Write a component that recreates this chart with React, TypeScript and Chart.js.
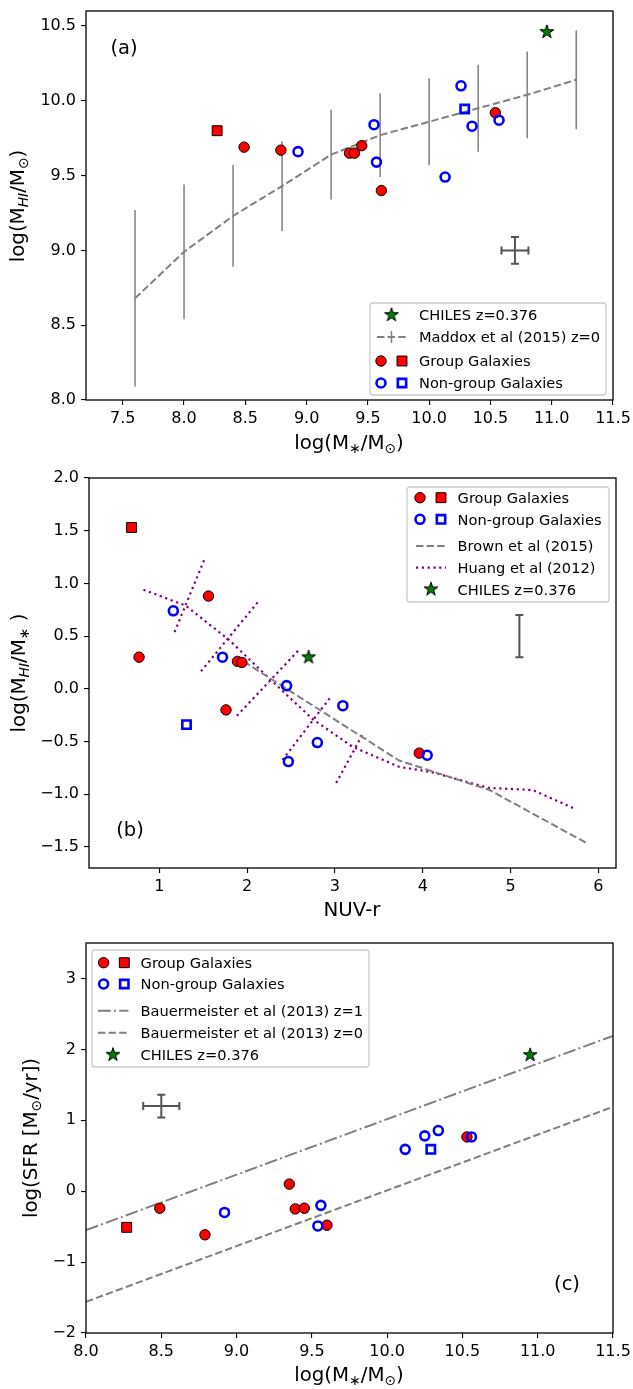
import React, { useEffect, useRef } from 'react';
import { Chart, registerables } from 'chart.js';

Chart.register(...registerables);

const FONT = "'DejaVu Sans', 'Liberation Sans', sans-serif";
const CANVAS_W = 633;

// ================= Panel (a) data =================
const aTickX = [7.5, 8.0, 8.5, 9.0, 9.5, 10.0, 10.5, 11.0, 11.5];
const aTickY = [8.0, 8.5, 9.0, 9.5, 10.0, 10.5];
const aGroupMass = [8.49, 8.79, 9.35, 9.39, 9.45, 9.61, 10.54];
const aGroupHI = [9.69, 9.67, 9.65, 9.65, 9.70, 9.40, 9.92];
const aGroupSqMass = [8.27];
const aGroupSqHI = [9.80];
const aNonGroupMass = [8.93, 9.55, 9.57, 10.13, 10.26, 10.35, 10.57];
const aNonGroupHI = [9.66, 9.84, 9.59, 9.49, 10.10, 9.83, 9.87];
const aNonGroupSqMass = [10.29];
const aNonGroupSqHI = [9.945];
const aChilesMass = [10.96];
const aChilesHI = [10.46];
const maddoxMass = [7.6, 8.0, 8.4, 8.8, 9.2, 9.6, 10.0, 10.4, 10.8, 11.2];
const maddoxHI = [8.68, 8.99, 9.23, 9.43, 9.64, 9.77, 9.86, 9.95, 10.04, 10.14];
const maddoxErr = [0.59, 0.45, 0.34, 0.30, 0.30, 0.28, 0.29, 0.29, 0.29, 0.33];
const aErrX = [10.7];
const aErrY = [9.0];
const aErrXSize = [0.11];
const aErrYSize = [0.09];

// ================= Panel (b) data =================
const bTickX = [1, 2, 3, 4, 5, 6];
const bTickY = [-1.5, -1.0, -0.5, 0.0, 0.5, 1.0, 1.5, 2.0];
const bGroupNUV = [0.77, 1.56, 1.89, 1.94, 1.76, 3.96];
const bGroupFrac = [0.30, 0.88, 0.26, 0.25, -0.20, -0.61];
const bGroupSqNUV = [0.685];
const bGroupSqFrac = [1.53];
const bNonGroupNUV = [1.16, 1.72, 2.45, 3.09, 2.80, 2.47, 4.05];
const bNonGroupFrac = [0.74, 0.30, 0.03, -0.16, -0.51, -0.69, -0.63];
const bNonGroupSqNUV = [1.31];
const bNonGroupSqFrac = [-0.34];
const bChilesNUV = [2.70];
const bChilesFrac = [0.30];
const brownNUV = [1.96, 3.73, 4.76, 5.88];
const brownFrac = [0.26, -0.68, -0.96, -1.47];
const huangNUV = [0.82, 1.3, 1.8, 2.3, 2.75, 3.2, 3.73, 4.1, 4.75, 5.25, 5.71];
const huangFrac = [0.94, 0.79, 0.46, 0.06, -0.29, -0.55, -0.74, -0.79, -0.94, -0.96, -1.13];
const huangBarNUV1 = [1.51, 2.12, 2.58, 2.94, 3.31];
const huangBarFrac1 = [1.22, 0.82, 0.36, -0.09, -0.44];
const huangBarNUV2 = [1.16, 1.45, 1.88, 2.38, 3.01];
const huangBarFrac2 = [0.51, 0.14, -0.26, -0.70, -0.90];
const bErrX = [5.1];
const bErrY = [0.5];
const bErrYSize = [0.2];

// ================= Panel (c) data =================
const cTickX = [8.0, 8.5, 9.0, 9.5, 10.0, 10.5, 11.0, 11.5];
const cTickY = [-2, -1, 0, 1, 2, 3];
const cGroupMass = [8.49, 8.79, 9.35, 9.39, 9.45, 9.60, 10.53];
const cGroupSFR = [-0.24, -0.615, 0.10, -0.25, -0.24, -0.48, 0.765];
const cGroupSqMass = [8.27];
const cGroupSqSFR = [-0.51];
const cNonGroupMass = [8.92, 9.56, 9.54, 10.12, 10.25, 10.34, 10.56];
const cNonGroupSFR = [-0.30, -0.20, -0.49, 0.59, 0.78, 0.855, 0.765];
const cNonGroupSqMass = [10.29];
const cNonGroupSqSFR = [0.59];
const cChilesMass = [10.95];
const cChilesSFR = [1.92];
const bauerMass = [8.0, 11.5];
const bauerZ1 = [-0.55, 2.19];
const bauerZ0 = [-1.56, 1.19];
const cErrX = [8.5];
const cErrY = [1.2];
const cErrXSize = [0.12];
const cErrYSize = [0.16];

// ================= helpers =================
type Pt = { x: number; y: number };
const pts = (xs: number[], ys: number[]): Pt[] => xs.map((x, i) => ({ x, y: ys[i] }));

const GRAY = '#808080';
const PURPLE = '#800080';
const DASHED = [7.4, 3.2];
const DOTTED = [2.2, 3.6];
const DASHDOT = [12.8, 3.2, 2, 3.2];

const R_FC = 5.2;
const R_FS = 7.0;
const R_OC = 4.5;
const R_OS = 5.9;
const BLUE_W = 2.6;

function makeStar(): HTMLCanvasElement {
  const c = document.createElement('canvas');
  const s = 20;
  c.width = s;
  c.height = s;
  const ctx = c.getContext('2d')!;
  const outer = 7.2;
  const inner = outer * 0.382;
  ctx.beginPath();
  for (let i = 0; i < 10; i++) {
    const r = i % 2 === 0 ? outer : inner;
    const a = -Math.PI / 2 + (i * Math.PI) / 5;
    const px = s / 2 + r * Math.cos(a);
    const py = s / 2 + r * Math.sin(a);
    if (i === 0) ctx.moveTo(px, py);
    else ctx.lineTo(px, py);
  }
  ctx.closePath();
  ctx.fillStyle = 'green';
  ctx.fill();
  ctx.lineWidth = 1;
  ctx.strokeStyle = '#000';
  ctx.lineJoin = 'miter';
  ctx.stroke();
  return c;
}

let STAR: HTMLCanvasElement | null = null;
const star = () => {
  if (!STAR) STAR = makeStar();
  return STAR;
};

const dsFilledCircle = (data: Pt[]) => ({
  data, showLine: false, order: 1,
  pointStyle: 'circle', pointRadius: R_FC, pointBorderWidth: 1,
  pointBorderColor: '#000', pointBackgroundColor: '#ff0000',
  borderColor: '#000', backgroundColor: '#ff0000',
});
const dsFilledSquare = (data: Pt[]) => ({
  data, showLine: false, order: 1,
  pointStyle: 'rect', pointRadius: R_FS, pointBorderWidth: 1,
  pointBorderColor: '#000', pointBackgroundColor: '#ff0000',
  borderColor: '#000', backgroundColor: '#ff0000',
});
const dsOpenCircle = (data: Pt[]) => ({
  data, showLine: false, order: 0,
  pointStyle: 'circle', pointRadius: R_OC, pointBorderWidth: BLUE_W,
  pointBorderColor: '#0000ff', pointBackgroundColor: 'rgba(0,0,0,0)',
  borderColor: '#0000ff', backgroundColor: 'rgba(0,0,0,0)',
});
const dsOpenSquare = (data: Pt[]) => ({
  data, showLine: false, order: 0,
  pointStyle: 'rect', pointRadius: R_OS, pointBorderWidth: BLUE_W,
  pointBorderColor: '#0000ff', pointBackgroundColor: 'rgba(0,0,0,0)',
  borderColor: '#0000ff', backgroundColor: 'rgba(0,0,0,0)',
});
const dsStar = (data: Pt[]) => ({
  data, showLine: false, order: 0,
  pointStyle: star(), pointRadius: 7,
});
const dsLine = (data: Pt[], color: string, width: number, dash: number[]) => ({
  data, showLine: true, order: 5, pointRadius: 0, fill: false, tension: 0,
  borderColor: color, borderWidth: width, borderDash: dash, borderCapStyle: 'butt',
  backgroundColor: color,
});

type ErrSpec = {
  xs: number[]; ys: number[]; xerr?: number[]; yerr?: number[];
  color: string; width: number; cap: number;
};
type Seg = { t: string; sub?: boolean; it?: boolean };
type TextItem = { segs: Seg[]; x: number; y: number; size: number; rotate?: boolean };
type Handle = {
  k: 'fc' | 'fs' | 'oc' | 'os' | 'star' | 'line';
  x: number; x2?: number; color?: string; dash?: number[]; width?: number; bar?: boolean;
};
type LegendRow = { y: number; text: string; handles: Handle[] };
type LegendCfg = { box: [number, number, number, number]; textX: number; size: number; rows: LegendRow[] };

type Panel = {
  height: number;
  frame: { l: number; t: number; r: number; b: number };
  xMin: number; xMax: number; yMin: number; yMax: number;
  xTicks: number[]; yTicks: number[];
  xDec: number; yDec: number;
  datasets: any[];
  errs: ErrSpec[];
  legend: LegendCfg;
  texts: TextItem[];
};

const fmt = (v: number, d: number) => (v < -1e-9 ? '\u2212' : '') + Math.abs(v).toFixed(d);

function drawRich(ctx: CanvasRenderingContext2D, item: TextItem) {
  const { segs, x, y, size, rotate } = item;
  const sub = size * 0.7;
  const fontOf = (s: Seg) =>
    `${s.it ? 'italic ' : ''}${s.sub ? sub : size}px ${FONT}`;
  ctx.save();
  ctx.translate(x, y);
  if (rotate) ctx.rotate(-Math.PI / 2);
  let total = 0;
  const widths = segs.map((s) => {
    ctx.font = fontOf(s);
    const w = ctx.measureText(s.t).width;
    total += w;
    return w;
  });
  let cx = -total / 2;
  const base = size * 0.28;
  ctx.fillStyle = '#000';
  ctx.textBaseline = 'alphabetic';
  ctx.textAlign = 'left';
  segs.forEach((s, i) => {
    ctx.font = fontOf(s);
    ctx.fillText(s.t, cx, s.sub ? base + size * 0.2 : base);
    cx += widths[i];
  });
  ctx.restore();
}

function drawMarker(ctx: CanvasRenderingContext2D, h: Handle, y: number) {
  ctx.save();
  ctx.setLineDash([]);
  if (h.k === 'fc') {
    ctx.beginPath();
    ctx.arc(h.x, y, R_FC, 0, Math.PI * 2);
    ctx.fillStyle = '#ff0000';
    ctx.fill();
    ctx.lineWidth = 1;
    ctx.strokeStyle = '#000';
    ctx.stroke();
  } else if (h.k === 'fs') {
    const s = R_FS * Math.SQRT1_2;
    ctx.beginPath();
    ctx.rect(h.x - s, y - s, 2 * s, 2 * s);
    ctx.fillStyle = '#ff0000';
    ctx.fill();
    ctx.lineWidth = 1;
    ctx.strokeStyle = '#000';
    ctx.stroke();
  } else if (h.k === 'oc') {
    ctx.beginPath();
    ctx.arc(h.x, y, R_OC, 0, Math.PI * 2);
    ctx.lineWidth = BLUE_W;
    ctx.strokeStyle = '#0000ff';
    ctx.stroke();
  } else if (h.k === 'os') {
    const s = R_OS * Math.SQRT1_2;
    ctx.beginPath();
    ctx.rect(h.x - s, y - s, 2 * s, 2 * s);
    ctx.lineWidth = BLUE_W;
    ctx.strokeStyle = '#0000ff';
    ctx.stroke();
  } else if (h.k === 'star') {
    const img = star();
    ctx.drawImage(img, h.x - img.width / 2, y - img.height / 2);
  } else if (h.k === 'line') {
    ctx.beginPath();
    ctx.setLineDash(h.dash || []);
    ctx.lineWidth = h.width || 2;
    ctx.strokeStyle = h.color || GRAY;
    ctx.lineCap = 'butt';
    ctx.moveTo(h.x, y);
    ctx.lineTo(h.x2 || h.x, y);
    ctx.stroke();
    if (h.bar) {
      const mx = (h.x + (h.x2 || h.x)) / 2;
      ctx.setLineDash([]);
      ctx.lineWidth = 1.5;
      ctx.beginPath();
      ctx.moveTo(mx, y - 6);
      ctx.lineTo(mx, y + 6);
      ctx.stroke();
    }
  }
  ctx.restore();
}

function roundRect(ctx: CanvasRenderingContext2D, x: number, y: number, w: number, h: number, r: number) {
  ctx.beginPath();
  ctx.moveTo(x + r, y);
  ctx.lineTo(x + w - r, y);
  ctx.arcTo(x + w, y, x + w, y + r, r);
  ctx.lineTo(x + w, y + h - r);
  ctx.arcTo(x + w, y + h, x + w - r, y + h, r);
  ctx.lineTo(x + r, y + h);
  ctx.arcTo(x, y + h, x, y + h - r, r);
  ctx.lineTo(x, y + r);
  ctx.arcTo(x, y, x + r, y, r);
  ctx.closePath();
}

function makeChart(canvas: HTMLCanvasElement, p: Panel): Chart {
  const { frame } = p;
  const errPlugin = {
    id: 'errbars',
    beforeDatasetsDraw(chart: any) {
      const ctx: CanvasRenderingContext2D = chart.ctx;
      const xs = chart.scales.x;
      const ys = chart.scales.y;
      p.errs.forEach((e) => {
        ctx.save();
        ctx.strokeStyle = e.color;
        ctx.lineWidth = e.width;
        ctx.setLineDash([]);
        ctx.lineCap = 'butt';
        e.xs.forEach((xv, i) => {
          const px = xs.getPixelForValue(xv);
          const py = ys.getPixelForValue(e.ys[i]);
          if (e.yerr) {
            const t = ys.getPixelForValue(e.ys[i] + e.yerr[i]);
            const b = ys.getPixelForValue(e.ys[i] - e.yerr[i]);
            ctx.beginPath();
            ctx.moveTo(px, t);
            ctx.lineTo(px, b);
            if (e.cap > 0) {
              ctx.moveTo(px - e.cap, t);
              ctx.lineTo(px + e.cap, t);
              ctx.moveTo(px - e.cap, b);
              ctx.lineTo(px + e.cap, b);
            }
            ctx.stroke();
          }
          if (e.xerr) {
            const l = xs.getPixelForValue(xv - e.xerr[i]);
            const r = xs.getPixelForValue(xv + e.xerr[i]);
            ctx.beginPath();
            ctx.moveTo(l, py);
            ctx.lineTo(r, py);
            if (e.cap > 0) {
              ctx.moveTo(l, py - e.cap);
              ctx.lineTo(l, py + e.cap);
              ctx.moveTo(r, py - e.cap);
              ctx.lineTo(r, py + e.cap);
            }
            ctx.stroke();
          }
        });
        ctx.restore();
      });
    },
  };
  const decoPlugin = {
    id: 'deco',
    afterDraw(chart: any) {
      const ctx: CanvasRenderingContext2D = chart.ctx;
      const a = chart.chartArea;
      ctx.save();
      ctx.strokeStyle = '#000';
      ctx.lineWidth = 1.3;
      ctx.setLineDash([]);
      ctx.strokeRect(a.left, a.top, a.right - a.left, a.bottom - a.top);
      ctx.restore();
      // legend
      const L = p.legend;
      ctx.save();
      roundRect(ctx, L.box[0], L.box[1], L.box[2], L.box[3], 3);
      ctx.fillStyle = 'rgba(255,255,255,0.8)';
      ctx.fill();
      ctx.strokeStyle = '#cccccc';
      ctx.lineWidth = 1.3;
      ctx.stroke();
      ctx.restore();
      L.rows.forEach((row) => {
        row.handles.forEach((h) => drawMarker(ctx, h, row.y));
        ctx.save();
        ctx.fillStyle = '#000';
        ctx.font = `${L.size}px ${FONT}`;
        ctx.textAlign = 'left';
        ctx.textBaseline = 'alphabetic';
        ctx.fillText(row.text, L.textX, row.y + L.size * 0.36);
        ctx.restore();
      });
      p.texts.forEach((t) => drawRich(ctx, t));
    },
  };

  const tickFont = { size: 16, family: FONT };
  const grid = {
    display: true, drawOnChartArea: false, drawTicks: true, tickLength: 5,
    color: '#000', lineWidth: 1.1,
  };
  const cfg: any = {
    type: 'scatter',
    data: { datasets: p.datasets },
    options: {
      responsive: false,
      maintainAspectRatio: false,
      animation: false,
      devicePixelRatio: 1,
      events: [],
      layout: { padding: { left: 0, top: frame.t, right: CANVAS_W - frame.r, bottom: 0 } },
      plugins: { legend: { display: false }, tooltip: { enabled: false }, title: { display: false } },
      scales: {
        x: {
          type: 'linear', position: 'bottom', min: p.xMin, max: p.xMax,
          afterBuildTicks: (s: any) => { s.ticks = p.xTicks.map((v) => ({ value: v })); },
          afterFit: (s: any) => { s.height = p.height - frame.b; s.paddingLeft = 0; s.paddingRight = 0; },
          ticks: {
            callback: (v: number) => fmt(v, p.xDec), color: '#000', font: tickFont,
            padding: 4, maxRotation: 0, minRotation: 0, autoSkip: false,
          },
          grid, border: { display: false },
        },
        y: {
          type: 'linear', position: 'left', min: p.yMin, max: p.yMax,
          afterBuildTicks: (s: any) => { s.ticks = p.yTicks.map((v) => ({ value: v })); },
          afterFit: (s: any) => { s.width = frame.l; s.paddingTop = 0; s.paddingBottom = 0; },
          ticks: {
            callback: (v: number) => fmt(v, p.yDec), color: '#000', font: tickFont,
            padding: 5, autoSkip: false,
          },
          grid, border: { display: false },
        },
      },
    },
    plugins: [errPlugin, decoPlugin],
  };
  return new Chart(canvas, cfg);
}

// ================= panel configs =================
const T_SIZE = 19.8;
const L_SIZE = 14.6;
const titleMassStar: Seg[] = [{ t: 'log(M' }, { t: '\u2217', sub: true }, { t: '/M' }, { t: '\u2299', sub: true }, { t: ')' }];
const titleHI: Seg[] = [{ t: 'log(M' }, { t: 'HI', sub: true, it: true }, { t: '/M' }, { t: '\u2299', sub: true }, { t: ')' }];
const titleFrac: Seg[] = [{ t: 'log(M' }, { t: 'HI', sub: true, it: true }, { t: '/M' }, { t: '\u2217', sub: true }, { t: ' )' }];
const titleSFR: Seg[] = [{ t: 'log(SFR [M' }, { t: '\u2299', sub: true }, { t: '/yr])' }];

function panelA(): Panel {
  return {
    height: 460,
    frame: { l: 86, t: 11, r: 613, b: 400 },
    xMin: 7.2, xMax: 11.5, yMin: 8.0, yMax: 10.6,
    xTicks: aTickX, yTicks: aTickY, xDec: 1, yDec: 1,
    datasets: [
      dsStar(pts(aChilesMass, aChilesHI)),
      dsOpenSquare(pts(aNonGroupSqMass, aNonGroupSqHI)),
      dsOpenCircle(pts(aNonGroupMass, aNonGroupHI)),
      dsFilledSquare(pts(aGroupSqMass, aGroupSqHI)),
      dsFilledCircle(pts(aGroupMass, aGroupHI)),
      dsLine(pts(maddoxMass, maddoxHI), GRAY, 2, DASHED),
    ],
    errs: [
      { xs: maddoxMass, ys: maddoxHI, yerr: maddoxErr, color: GRAY, width: 1.5, cap: 0 },
      { xs: aErrX, ys: aErrY, xerr: aErrXSize, yerr: aErrYSize, color: '#555555', width: 2, cap: 4 },
    ],
    legend: {
      box: [370, 303, 236, 92], textX: 419, size: L_SIZE,
      rows: [
        { y: 315, text: 'CHILES z=0.376', handles: [{ k: 'star', x: 391.5 }] },
        { y: 337, text: 'Maddox et al (2015) z=0', handles: [{ k: 'line', x: 377, x2: 406, color: GRAY, dash: DASHED, width: 2, bar: true }] },
        { y: 361, text: 'Group Galaxies', handles: [{ k: 'fc', x: 381 }, { k: 'fs', x: 402 }] },
        { y: 383, text: 'Non-group Galaxies', handles: [{ k: 'oc', x: 381 }, { k: 'os', x: 402 }] },
      ],
    },
    texts: [
      { segs: titleHI, x: 18.5, y: 206, size: T_SIZE, rotate: true },
      { segs: titleMassStar, x: 349, y: 443, size: T_SIZE },
      { segs: [{ t: '(a)' }], x: 124, y: 49, size: 19.5 },
    ],
  };
}

function panelB(): Panel {
  const bars = huangBarNUV1.map((x1, i) =>
    dsLine(pts([x1, huangBarNUV2[i]], [huangBarFrac1[i], huangBarFrac2[i]]), PURPLE, 2.2, DOTTED));
  return {
    height: 460,
    frame: { l: 89, t: 18, r: 616, b: 408 },
    xMin: 0.2, xMax: 6.2, yMin: -1.7, yMax: 2.0,
    xTicks: bTickX, yTicks: bTickY, xDec: 0, yDec: 1,
    datasets: [
      dsStar(pts(bChilesNUV, bChilesFrac)),
      dsOpenSquare(pts(bNonGroupSqNUV, bNonGroupSqFrac)),
      dsOpenCircle(pts(bNonGroupNUV, bNonGroupFrac)),
      dsFilledSquare(pts(bGroupSqNUV, bGroupSqFrac)),
      dsFilledCircle(pts(bGroupNUV, bGroupFrac)),
      dsLine(pts(brownNUV, brownFrac), GRAY, 2, DASHED),
      dsLine(pts(huangNUV, huangFrac), PURPLE, 2.2, DOTTED),
      ...bars,
    ],
    errs: [
      { xs: bErrX, ys: bErrY, yerr: bErrYSize, color: '#555555', width: 2, cap: 4 },
    ],
    legend: {
      box: [407, 27, 202, 115], textX: 457.6, size: L_SIZE,
      rows: [
        { y: 37.7, text: 'Group Galaxies', handles: [{ k: 'fc', x: 420 }, { k: 'fs', x: 441 }] },
        { y: 59.3, text: 'Non-group Galaxies', handles: [{ k: 'oc', x: 420 }, { k: 'os', x: 441 }] },
        { y: 86, text: 'Brown et al (2015)', handles: [{ k: 'line', x: 416, x2: 446, color: GRAY, dash: DASHED, width: 2 }] },
        { y: 107.7, text: 'Huang et al (2012)', handles: [{ k: 'line', x: 416, x2: 446, color: PURPLE, dash: DOTTED, width: 2.2 }] },
        { y: 129.3, text: 'CHILES z=0.376', handles: [{ k: 'star', x: 431 }] },
      ],
    },
    texts: [
      { segs: titleFrac, x: 19.2, y: 213, size: T_SIZE, rotate: true },
      { segs: [{ t: 'NUV-r' }], x: 352, y: 450, size: T_SIZE },
      { segs: [{ t: '(b)' }], x: 130, y: 371, size: 19.5 },
    ],
  };
}

function panelC(): Panel {
  return {
    height: 469,
    frame: { l: 86, t: 23, r: 613, b: 413 },
    xMin: 8.0, xMax: 11.5, yMin: -2.0, yMax: 3.5,
    xTicks: cTickX, yTicks: cTickY, xDec: 1, yDec: 0,
    datasets: [
      dsStar(pts(cChilesMass, cChilesSFR)),
      dsOpenSquare(pts(cNonGroupSqMass, cNonGroupSqSFR)),
      dsOpenCircle(pts(cNonGroupMass, cNonGroupSFR)),
      dsFilledSquare(pts(cGroupSqMass, cGroupSqSFR)),
      dsFilledCircle(pts(cGroupMass, cGroupSFR)),
      dsLine(pts(bauerMass, bauerZ1), GRAY, 2, DASHDOT),
      dsLine(pts(bauerMass, bauerZ0), GRAY, 2, DASHED),
    ],
    errs: [
      { xs: cErrX, ys: cErrY, xerr: cErrXSize, yerr: cErrYSize, color: '#555555', width: 2, cap: 4 },
    ],
    legend: {
      box: [92, 30, 277, 117], textX: 140.6, size: L_SIZE,
      rows: [
        { y: 42.7, text: 'Group Galaxies', handles: [{ k: 'fc', x: 103.6 }, { k: 'fs', x: 124.3 }] },
        { y: 64, text: 'Non-group Galaxies', handles: [{ k: 'oc', x: 103.6 }, { k: 'os', x: 124.3 }] },
        { y: 90.7, text: 'Bauermeister et al (2013) z=1', handles: [{ k: 'line', x: 98, x2: 128.4, color: GRAY, dash: DASHDOT, width: 2 }] },
        { y: 112.7, text: 'Bauermeister et al (2013) z=0', handles: [{ k: 'line', x: 98, x2: 128.4, color: GRAY, dash: DASHED, width: 2 }] },
        { y: 134.7, text: 'CHILES z=0.376', handles: [{ k: 'star', x: 113 }] },
      ],
    },
    texts: [
      { segs: titleSFR, x: 31.6, y: 218, size: T_SIZE, rotate: true },
      { segs: titleMassStar, x: 349, y: 455, size: T_SIZE },
      { segs: [{ t: '(c)' }], x: 567, y: 365, size: 19.5 },
    ],
  };
}

export default function App() {
  const refA = useRef<HTMLCanvasElement>(null);
  const refB = useRef<HTMLCanvasElement>(null);
  const refC = useRef<HTMLCanvasElement>(null);

  useEffect(() => {
    Chart.defaults.font.family = FONT;
    const charts = [
      makeChart(refA.current!, panelA()),
      makeChart(refB.current!, panelB()),
      makeChart(refC.current!, panelC()),
    ];
    return () => charts.forEach((c) => c.destroy());
  }, []);

  const cs = (top: number, h: number): React.CSSProperties => ({
    position: 'absolute', left: 0, top, width: CANVAS_W, height: h, display: 'block',
  });

  return (
    <div style={{ position: 'absolute', left: 0, top: 0, width: CANVAS_W, height: 1389, background: '#fff' }}>
      <canvas ref={refA} width={CANVAS_W} height={460} style={cs(0, 460)} />
      <canvas ref={refB} width={CANVAS_W} height={460} style={cs(460, 460)} />
      <canvas ref={refC} width={CANVAS_W} height={469} style={cs(920, 469)} />
    </div>
  );
}
